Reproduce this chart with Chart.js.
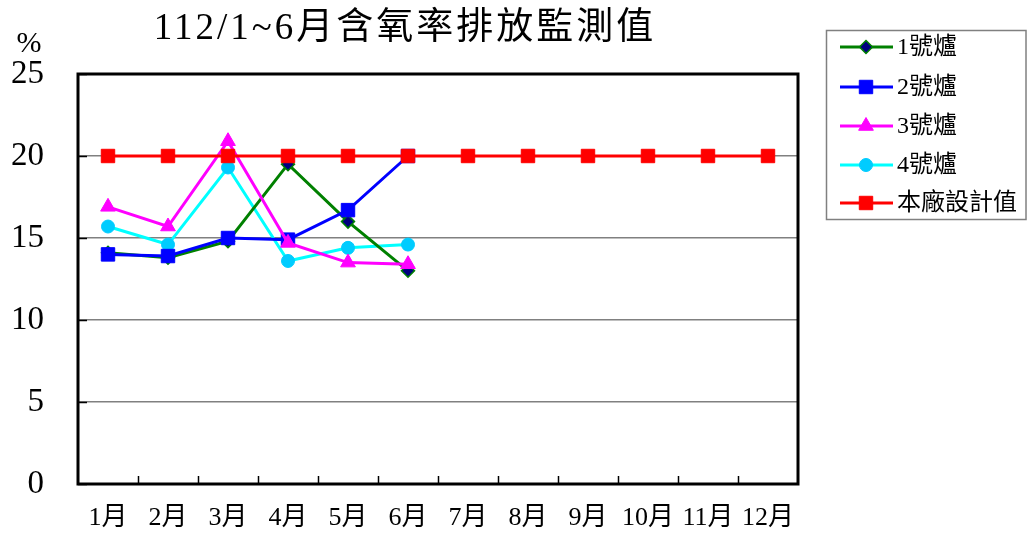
<!DOCTYPE html>
<html>
<head>
<meta charset="utf-8">
<script src="https://cdn.jsdelivr.net/npm/chart.js@4/dist/chart.umd.min.js"></script>
<style>
html,body{margin:0;padding:0;background:#fff;}
#wrap{width:1027px;height:533px;position:relative;}
</style>
</head>
<body>
<div id="wrap"><canvas id="c" width="1027" height="533"></canvas></div>
<script>
const titleText = '112/1~6月含氧率排放監測值';
const unitLabel = '%';
const months = ['1月','2月','3月','4月','5月','6月','7月','8月','9月','10月','11月','12月'];
const furnace1 = [14.1, 13.8, 14.8, 19.5, 16.0, 13.0];
const furnace2 = [14.0, 13.9, 15.0, 14.9, 16.7, 20.0];
const furnace3 = [16.9, 15.7, 20.9, 14.7, 13.5, 13.4];
const furnace4 = [15.7, 14.6, 19.3, 13.6, 14.4, 14.6];
const designValue = [20, 20, 20, 20, 20, 20, 20, 20, 20, 20, 20, 20];
const seriesNames = ['1號爐', '2號爐', '3號爐', '4號爐', '本廠設計值'];
const yTicks = [0, 5, 10, 15, 20, 25];

const FONT = '"Liberation Serif", "Noto Sans CJK TC", serif';

const styles = [
  {line:'#008000', fill:'#000080', border:'#008000', shape:'rectRot', r:6.5, bw:1.5},
  {line:'#0000FF', fill:'#0000FF', border:'#0000FF', shape:'rect', r:9.5, bw:1},
  {line:'#FF00FF', fill:'#FF00FF', border:'#FF00FF', shape:'triangle', r:8.5, bw:1},
  {line:'#00FFFF', fill:'#00CCFF', border:'#00CCFF', shape:'circle', r:6.5, bw:1},
  {line:'#FF0000', fill:'#FF0000', border:'#FF0000', shape:'rect', r:9.5, bw:1}
];
const values = [furnace1, furnace2, furnace3, furnace4, designValue];
const orders = [3, 2, 1, 4, 0];

const datasets = values.map((v, i) => ({
  label: seriesNames[i],
  data: v,
  borderColor: styles[i].line,
  backgroundColor: styles[i].fill,
  pointBackgroundColor: styles[i].fill,
  pointBorderColor: styles[i].border,
  pointBorderWidth: styles[i].bw,
  pointStyle: styles[i].shape,
  pointRadius: styles[i].r,
  borderWidth: 3,
  tension: 0,
  order: orders[i],
  clip: false
}));

function drawMarker(ctx, s, x, y) {
  ctx.save();
  ctx.fillStyle = s.fill;
  ctx.strokeStyle = s.border;
  ctx.lineWidth = s.bw;
  ctx.beginPath();
  const r = s.r;
  if (s.shape === 'rect') {
    const h = r * Math.SQRT1_2;
    ctx.rect(x - h, y - h, 2 * h, 2 * h);
  } else if (s.shape === 'rectRot') {
    ctx.moveTo(x, y - r); ctx.lineTo(x + r, y); ctx.lineTo(x, y + r); ctx.lineTo(x - r, y); ctx.closePath();
  } else if (s.shape === 'triangle') {
    ctx.moveTo(x, y - r);
    ctx.lineTo(x + r * Math.sin(Math.PI / 3), y + r / 2);
    ctx.lineTo(x - r * Math.sin(Math.PI / 3), y + r / 2);
    ctx.closePath();
  } else {
    ctx.arc(x, y, r, 0, Math.PI * 2);
  }
  ctx.fill();
  ctx.stroke();
  ctx.restore();
}

const framePlugin = {
  id: 'frame',
  beforeDatasetsDraw(chart) {
    const ctx = chart.ctx;
    const a = chart.chartArea;
    const ys = chart.scales.y;
    ctx.save();
    ctx.strokeStyle = '#000';
    ctx.lineWidth = 1.5;
    yTicks.forEach(t => {
      const py = Math.round(ys.getPixelForValue(t)) + 0.5;
      ctx.beginPath(); ctx.moveTo(a.left, py); ctx.lineTo(a.left + 9, py); ctx.stroke();
    });
    const step = (a.right - a.left) / months.length;
    for (let i = 1; i < months.length; i++) {
      const px = Math.round(a.left + step * i) + 0.5;
      ctx.beginPath(); ctx.moveTo(px, a.bottom); ctx.lineTo(px, a.bottom - 8); ctx.stroke();
    }
    ctx.lineWidth = 3;
    ctx.strokeRect(a.left, a.top, a.right - a.left, a.bottom - a.top);
    ctx.restore();
  },
  afterDraw(chart) {
    const ctx = chart.ctx;
    ctx.save();
    ctx.fillStyle = '#000';
    ctx.textBaseline = 'middle';
    ctx.font = '37px ' + FONT;
    ctx.textAlign = 'center';
    if ('letterSpacing' in ctx) ctx.letterSpacing = '3px';
    ctx.fillText(titleText, 405, 29);
    if ('letterSpacing' in ctx) ctx.letterSpacing = '0px';
    ctx.font = '30px ' + FONT;
    ctx.fillText(unitLabel, 29, 44);
    ctx.strokeStyle = '#808080';
    ctx.lineWidth = 1.5;
    ctx.strokeRect(826.5, 30.5, 199.5, 189);
    const ly = [47, 87, 126, 165, 203];
    ctx.font = '24px ' + FONT;
    ctx.textAlign = 'left';
    seriesNames.forEach((name, i) => {
      const s = styles[i];
      ctx.strokeStyle = s.line;
      ctx.lineWidth = 3;
      ctx.beginPath(); ctx.moveTo(840, ly[i]); ctx.lineTo(893, ly[i]); ctx.stroke();
      drawMarker(ctx, s, 866, ly[i]);
      ctx.fillStyle = '#000';
      ctx.fillText(name, 897, ly[i] + 1);
    });
    ctx.restore();
  }
};

new Chart(document.getElementById('c'), {
  type: 'line',
  data: { labels: months, datasets },
  options: {
    responsive: false,
    animation: false,
    devicePixelRatio: 1,
    layout: { padding: { top: 74, right: 229, left: 0, bottom: 0 } },
    plugins: { legend: { display: false }, title: { display: false }, tooltip: { enabled: false } },
    scales: {
      x: {
        type: 'category',
        offset: true,
        grid: { display: false, drawTicks: false },
        border: { display: false },
        ticks: { color: '#000', font: { family: FONT, size: 26 }, padding: 19, maxRotation: 0, autoSkip: false },
        afterFit(s) { s.height = 49; s.paddingLeft = 0; s.paddingRight = 0; }
      },
      y: {
        min: 0, max: 25,
        afterBuildTicks(s) { s.ticks = yTicks.map(v => ({ value: v })); },
        grid: { color: '#808080', lineWidth: 1.5, drawTicks: false },
        border: { display: false },
        ticks: { color: '#000', font: { family: FONT, size: 33 }, padding: 34 },
        afterFit(s) { s.width = 78; s.paddingTop = 0; s.paddingBottom = 0; }
      }
    }
  },
  plugins: [framePlugin]
});
</script>
</body>
</html>
